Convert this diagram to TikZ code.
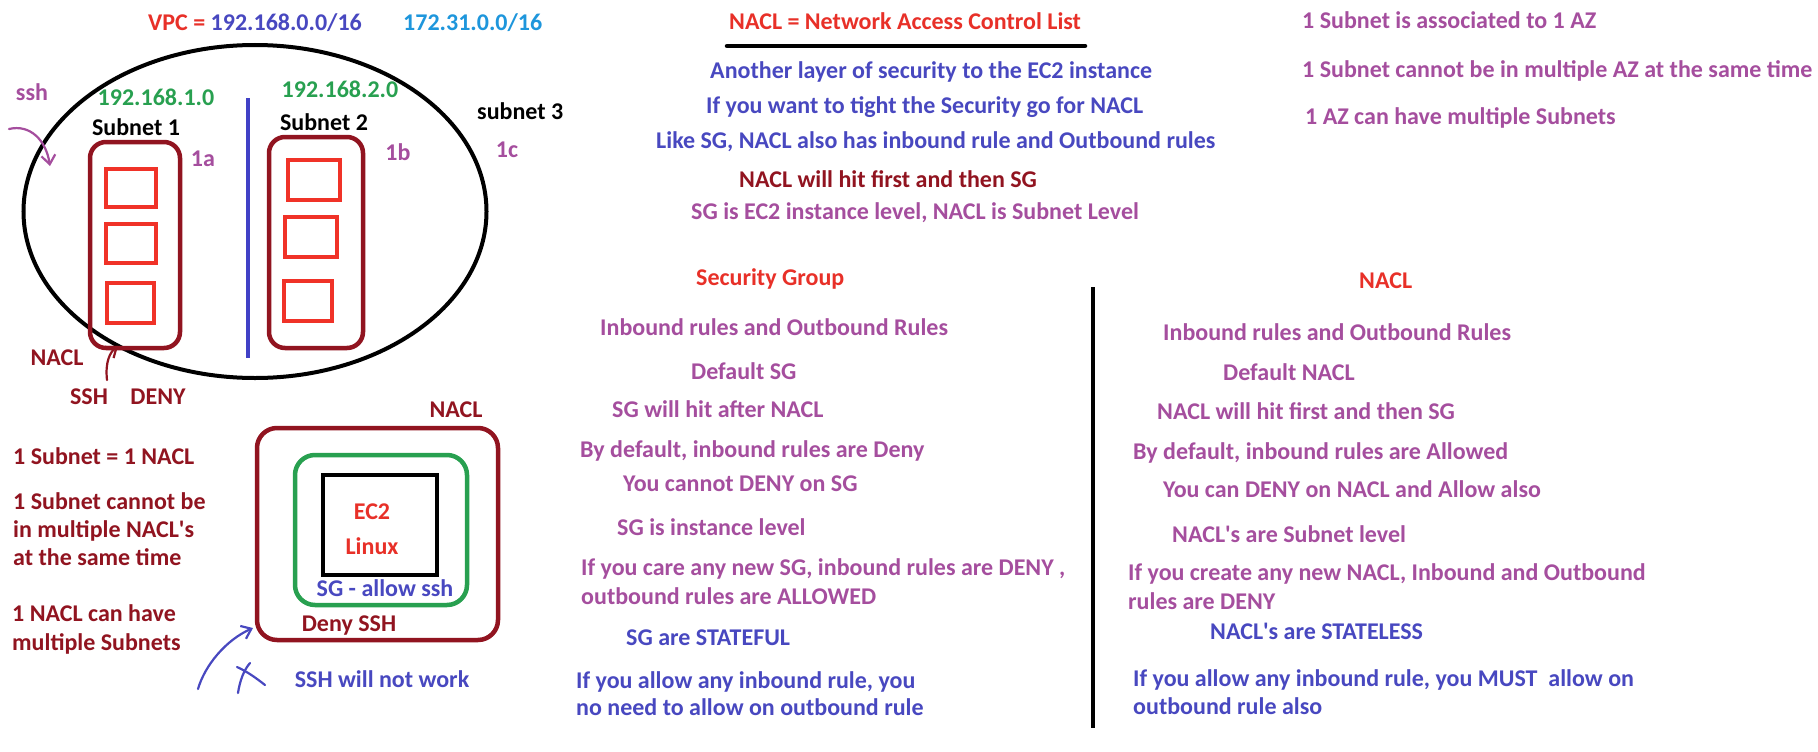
\documentclass[tikz,border=0pt]{standalone}
\usepackage{fontspec}
\setmainfont{Carlito}
\usetikzlibrary{arrows.meta}
\definecolor{nred}{RGB}{232,48,40}
\definecolor{nblue}{RGB}{72,72,192}
\definecolor{lblue}{RGB}{30,150,220}
\definecolor{ngreen}{RGB}{40,160,80}
\definecolor{dred}{RGB}{145,20,32}
\definecolor{mauve}{RGB}{165,78,158}
\definecolor{boxred}{RGB}{240,50,40}
\newcommand{\apos}{\textquotesingle}
\begin{document}
\begin{tikzpicture}[x=1pt,y=-1pt,
  txt/.style={font=\fontsize{24}{28}\selectfont\bfseries, inner sep=0pt, anchor=west, text height=15pt, text depth=0pt},
  ctxt/.style={txt, anchor=center},
  subnetbox/.style={draw=dred, line width=4.5pt, rounded corners=16pt},
  inst/.style={draw=boxred, line width=4.5pt},
  hand/.style={line width=2.2pt, line cap=round, -{Straight Barb[length=9pt,width=14pt,line width=2.2pt]}}
]
\useasboundingbox (0,0) rectangle (1818,752);
\fill[white] (0,0) rectangle (1818,752);

% ---------- VPC diagram ----------
\node[txt] (vpc) at (148,23) {\textcolor{nred}{VPC =} \textcolor{nblue}{192.168.0.0/16}};
\node[txt, text=lblue] (alt) at (403,23) {172.31.0.0/16};
\draw[line width=4pt] (255,211.5) ellipse [x radius=231.5pt, y radius=166.5pt];
\coordinate (vpcc) at (255,211.5);

\node[ctxt, text=mauve] (ssh) at (32,93) {ssh};
\coordinate (sshs) at (9,129);
\coordinate (sshe) at (50,166);
\draw[hand, draw=mauve] (sshs) .. controls (30,124) and (46,140) .. (sshe);

\node[ctxt, text=ngreen] (ip1) at (156,98) {192.168.1.0};
\node[ctxt] (sn1) at (136,128) {Subnet 1};
\draw[subnetbox] (90,142) rectangle (180,348);
\coordinate (sn1box) at (135,245);
\draw[inst] (106,169) rectangle (156,207);
\draw[inst] (106,224) rectangle (156,263);
\draw[inst] (107,283) rectangle (154,323);
\node[ctxt, text=mauve] (az1) at (203,159) {1a};

\draw[line width=4pt, draw=nblue!90!blue] (248,98) -- (248,358);

\node[ctxt, text=ngreen] (ip2) at (340,90) {192.168.2.0};
\node[ctxt] (sn2) at (324,123) {Subnet 2};
\draw[subnetbox] (269,137) rectangle (363,348);
\draw[inst] (288,160) rectangle (340,200);
\draw[inst] (285,217) rectangle (337,257);
\draw[inst] (284,281) rectangle (332,321);
\node[ctxt, text=mauve] (az2) at (398,153) {1b};

\node[txt] (sn3) at (477,112) {subnet 3};
\node[ctxt, text=mauve] (az3) at (507,150) {1c};

\node[ctxt, text=dred] (nacl1) at (57,358) {NACL};
\coordinate (nas) at (107,380);
\coordinate (nae) at (118,346);
\draw[hand, draw=dred] (nas) .. controls (105,362) and (110,352) .. (nae);
\node[ctxt, text=dred] (sshl) at (89,397) {SSH};
\node[ctxt, text=dred] (deny) at (158,397) {DENY};

% ---------- NACL / SG / EC2 ----------
\node[txt, text=dred] (r1) at (13,457) {1 Subnet = 1 NACL};
\node[txt, text=dred] (r2) at (13,502) {1 Subnet cannot be};
\node[txt, text=dred] (r3) at (13,530) {in multiple NACL\apos s};
\node[txt, text=dred] (r4) at (13,558) {at the same time};
\node[txt, text=dred] (r5) at (12,614) {1 NACL can have};
\node[txt, text=dred] (r6) at (12,643) {multiple Subnets};

\node[ctxt, text=dred] (naclt) at (456,410) {NACL};
\draw[draw=dred, line width=4.5pt, rounded corners=20pt] (257,428) rectangle (498,640);
\coordinate (naclcorner) at (253,628);
\draw[draw=ngreen, line width=4.5pt, rounded corners=20pt] (295,455) rectangle (467,605);
\draw[line width=4.5pt] (323,475) rectangle (437,575);
\node[ctxt, text=nred] (ec2) at (372,512) {EC2};
\node[ctxt, text=nred] (linux) at (372,547) {Linux};
\node[ctxt, text=nblue] (sgssh) at (385,589) {SG - allow ssh};
\node[ctxt, text=dred] (denyssh) at (349,624) {Deny SSH};

\coordinate (bas) at (198,689);
\draw[hand, draw=nblue] (bas) .. controls (205,665) and (226,640) .. (naclcorner);
\coordinate (xa) at (238,693);
\coordinate (xb) at (250,663);
\coordinate (xc) at (237,667);
\coordinate (xd) at (265,685);
\draw[draw=nblue, line width=2.2pt, line cap=round] (xa) .. controls (240,680) and (244,670) .. (xb);
\draw[draw=nblue, line width=2.2pt, line cap=round] (xc) .. controls (248,672) and (256,678) .. (xd);
\node[ctxt, text=nblue] (notwork) at (382,680) {SSH will not work};

% ---------- top middle ----------
\node[txt, text=nred] (title) at (729,22) {NACL = Network Access Control List};
\coordinate (ul1) at (727,46);
\coordinate (ul2) at (1085,46);
\draw[line width=4.5pt, line cap=round] (ul1) -- (ul2);
\node[txt, text=nblue] (t1) at (710,71) {Another layer of security to the EC2 instance};
\node[txt, text=nblue] (t2) at (706,106) {If you want to tight the Security go for NACL};
\node[txt, text=nblue] (t3) at (656,141) {Like SG, NACL also has inbound rule and Outbound rules};
\node[txt, text=dred] (t4) at (739,180) {NACL will hit first and then SG};
\node[txt, text=mauve] (t5) at (691,212) {SG is EC2 instance level, NACL is Subnet Level};

% ---------- top right ----------
\node[txt, text=mauve] (a1) at (1302,21) {1 Subnet is associated to 1 AZ};
\node[txt, text=mauve] (a2) at (1302,70) {1 Subnet cannot be in multiple AZ at the same time};
\node[txt, text=mauve] (a3) at (1305,117) {1 AZ can have multiple Subnets};

% ---------- SG column ----------
\node[txt, text=nred] (sgh) at (696,278) {Security Group};
\node[txt, text=mauve] (s1) at (600,328) {Inbound rules and Outbound Rules};
\node[txt, text=mauve] (s2) at (691,372) {Default SG};
\node[txt, text=mauve] (s3) at (612,410) {SG will hit after NACL};
\node[txt, text=mauve] (s4) at (580,450) {By default, inbound rules are Deny};
\node[txt, text=mauve] (s5) at (623,484) {You cannot DENY on SG};
\node[txt, text=mauve] (s6) at (617,528) {SG is instance level};
\node[txt, text=mauve] (s7) at (581,568) {If you care any new SG, inbound rules are DENY ,};
\node[txt, text=mauve] (s8) at (581,597) {outbound rules are ALLOWED};
\node[txt, text=nblue] (s9) at (626,638) {SG are STATEFUL};
\node[txt, text=nblue] (s10) at (576,681) {If you allow any inbound rule, you};
\node[txt, text=nblue] (s11) at (576,708) {no need to allow on outbound rule};

\coordinate (divt) at (1093,287);
\coordinate (divb) at (1093,728);
\draw[line width=4.5pt] (divt) -- (divb);

% ---------- NACL column ----------
\node[txt, text=nred] (nh) at (1359,281) {NACL};
\node[txt, text=mauve] (n1) at (1163,333) {Inbound rules and Outbound Rules};
\node[txt, text=mauve] (n2) at (1223,373) {Default NACL};
\node[txt, text=mauve] (n3) at (1157,412) {NACL will hit first and then SG};
\node[txt, text=mauve] (n4) at (1133,452) {By default, inbound rules are Allowed};
\node[txt, text=mauve] (n5) at (1163,490) {You can DENY on NACL and Allow also};
\node[txt, text=mauve] (n6) at (1172,535) {NACL\apos s are Subnet level};
\node[txt, text=mauve] (n7) at (1128,573) {If you create any new NACL, Inbound and Outbound};
\node[txt, text=mauve] (n8) at (1128,602) {rules are DENY};
\node[txt, text=nblue] (n9) at (1210,632) {NACL\apos s are STATELESS};
\node[txt, text=nblue] (n10) at (1133,679) {If you allow any inbound rule, you MUST\ \ allow on};
\node[txt, text=nblue] (n11) at (1133,707) {outbound rule also};
\end{tikzpicture}
\end{document}
